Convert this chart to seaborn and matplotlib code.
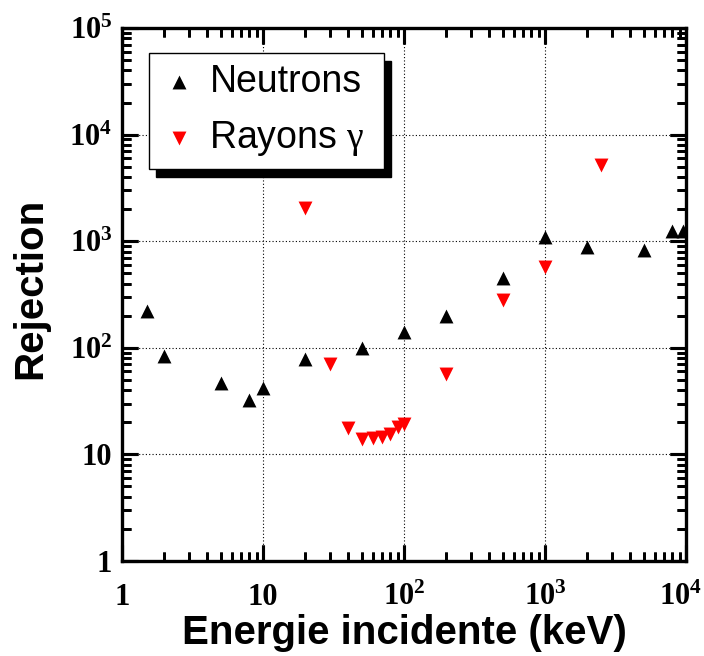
import matplotlib
matplotlib.use("Agg")
import matplotlib.pyplot as plt
import matplotlib.ticker as mticker
import matplotlib.transforms as mtransforms
import seaborn as sns
import pandas as pd

# valeurs
neutron_energie = [1.5, 2, 5, 8, 10, 20, 50, 100, 200, 500, 1000, 2000, 5000, 8000, 9500]
neutron_rejection = [220, 83, 47, 32.5, 42, 79, 100, 142, 200, 450, 1100, 890, 820, 1240, 1240]

gamma_energie = [20, 30, 40, 50, 60, 70, 80, 90, 100, 200, 500, 1000, 2500]
gamma_rejection = [2040, 71, 17.8, 13.8, 14.3, 14.6, 15.6, 18, 19.4, 57, 283, 568, 5140]

x_ticks = [1, 10, 100, 1000, 10000]
x_labels = ['1', '10', r'$10^{2}$', r'$10^{3}$', r'$10^{4}$']
y_ticks = [1, 10, 100, 1000, 10000, 100000]
y_labels = ['1', '10', r'$10^{2}$', r'$10^{3}$', r'$10^{4}$', r'$10^{5}$']

plt.rcParams['font.family'] = ['Liberation Sans', 'DejaVu Sans']
plt.rcParams['mathtext.fontset'] = 'custom'
plt.rcParams['mathtext.default'] = 'rm'
plt.rcParams['mathtext.rm'] = 'Liberation Serif:bold'
plt.rcParams['mathtext.bf'] = 'Liberation Serif:bold'
plt.rcParams['mathtext.sf'] = 'Liberation Serif'

df_n = pd.DataFrame({'energie': neutron_energie, 'rejection': neutron_rejection})
df_g = pd.DataFrame({'energie': gamma_energie, 'rejection': gamma_rejection})

fig = plt.figure(figsize=(7.04, 6.56), dpi=100)
ax = fig.add_axes([122 / 704, 95 / 656, 564 / 704, 533 / 656])
ax.set_xscale('log')
ax.set_yscale('log')

sns.scatterplot(data=df_n, x='energie', y='rejection', marker='^', color='black',
                s=100, linewidth=0, label='Neutrons', ax=ax, zorder=3)
sns.scatterplot(data=df_g, x='energie', y='rejection', marker='v', color='red',
                s=100, linewidth=0, label=r'Rayons $\mathsf{\gamma}$', ax=ax, zorder=3)

ax.set_xticks(x_ticks, x_labels)
ax.set_yticks(y_ticks, y_labels)
ax.xaxis.set_minor_locator(mticker.LogLocator(base=10, subs=range(2, 10), numticks=100))
ax.yaxis.set_minor_locator(mticker.LogLocator(base=10, subs=range(2, 10), numticks=100))
ax.xaxis.set_minor_formatter(mticker.NullFormatter())
ax.yaxis.set_minor_formatter(mticker.NullFormatter())

ax.grid(True, which='major', color='black', linestyle=(0, (1, 2)), linewidth=0.8)

# graduations style ROOT (epaisses, vers l'interieur, sur les 4 cotes),
# tracees en segments a partir des positions donnees par les locators
x_minor = [v for v in mticker.LogLocator(base=10, subs=range(2, 10)).tick_values(1, 1e4)
           if 1 < v < 1e4]
y_minor = [v for v in mticker.LogLocator(base=10, subs=range(2, 10)).tick_values(1, 1e5)
           if 1 < v < 1e5]
xt = ax.get_xaxis_transform()
yt = ax.get_yaxis_transform()
tick_kw = dict(color='black', zorder=2.6, capstyle='butt')
for lo, hi in [(0, 0.030), (1 - 0.030, 1)]:
    ax.vlines(x_ticks, lo, hi, transform=xt, linewidth=2.2, **tick_kw)
for lo, hi in [(0, 0.017), (1 - 0.017, 1)]:
    ax.vlines(x_minor, lo, hi, transform=xt, linewidth=2.0, **tick_kw)
for lo, hi in [(0, 0.028), (1 - 0.028, 1)]:
    ax.hlines(y_ticks, lo, hi, transform=yt, linewidth=2.2, **tick_kw)
for lo, hi in [(0, 0.016), (1 - 0.016, 1)]:
    ax.hlines(y_minor, lo, hi, transform=yt, linewidth=2.0, **tick_kw)

ax.set_xlim(1, 1e4)
ax.set_ylim(1, 1e5)

for sp in ax.spines.values():
    sp.set_linewidth(2.4)
    sp.set_color('black')

ax.set_xlabel('Energie incidente (keV)', fontsize=29, fontweight='bold')
ax.set_ylabel('Rejection', fontsize=29, fontweight='bold')
ax.xaxis.set_label_coords(0.5, -0.10)
ax.yaxis.set_label_coords(-0.129, 0.511)

leg = ax.legend(loc='upper left', bbox_to_anchor=(0.048, 0.753, 0.4167, 0.2), mode='expand',
                borderaxespad=0, frameon=True, fancybox=False, framealpha=1,
                shadow={'ox': 5, 'oy': -5.5, 'facecolor': 'black',
                        'edgecolor': 'black', 'alpha': 1},
                prop={'family': 'Liberation Sans', 'size': 27},
                handlelength=1.0, handletextpad=0.31, borderpad=0.3,
                labelspacing=0.5)
leg.get_frame().set_edgecolor('black')
leg.get_frame().set_linewidth(1.0)

ax.tick_params(which='major', direction='in', length=11.5, width=2.2, color='black',
               top=True, right=True, bottom=True, left=True, labelsize=22)
ax.tick_params(which='minor', direction='in', length=6.5, width=2.0, color='black',
               top=True, right=True, bottom=True, left=True)
ax.tick_params(axis='x', which='major', pad=32)
ax.tick_params(axis='y', which='major', pad=7)

for lbl in ax.get_xticklabels() + ax.get_yticklabels():
    lbl.set_fontfamily('Liberation Serif')
    lbl.set_fontweight('bold')
for lbl in ax.get_xticklabels():
    lbl.set_verticalalignment('baseline')
# le dernier label touche le bord droit : leger decalage vers la gauche
last = ax.get_xticklabels()[-1]
last.set_transform(last.get_transform() + mtransforms.ScaledTranslation(-4 / 72, 0, fig.dpi_scale_trans))

fig.savefig('out.png', dpi=100)
